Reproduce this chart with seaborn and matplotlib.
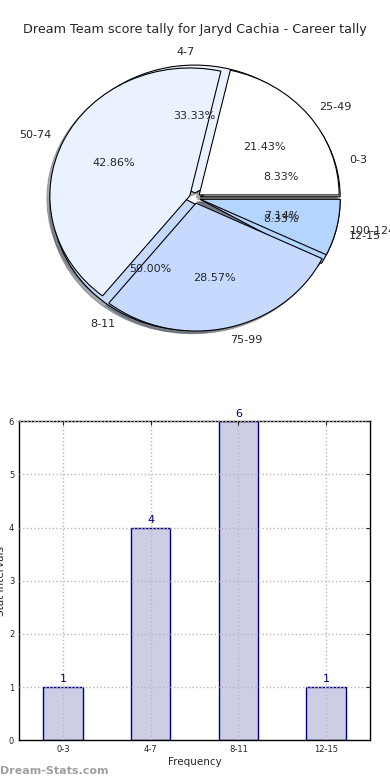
import matplotlib
matplotlib.use("Agg")
import matplotlib.pyplot as plt
import seaborn as sns

# Datos del grafico de sectores (dos tartas superpuestas)
dt_labels = ["0-3", "4-7", "8-11", "12-15"]
dt_values = [1, 4, 6, 1]
career_labels = ["25-49", "50-74", "75-99", "100-124"]
career_values = [3, 6, 4, 1]

# Datos del grafico de barras
bar_labels = ["0-3", "4-7", "8-11", "12-15"]
bar_values = [1, 4, 6, 1]

pie_colors = ["#ffffff", "#ebf2ff", "#c6d9ff", "#b3d5ff"]

sns.set_style("white")
plt.rcParams["font.family"] = ["DejaVu Sans"]

fig = plt.figure(figsize=(3.9, 7.8), dpi=100)

# Tarta
ax1 = fig.add_axes([0.051, 0.541, 0.897, 0.410])
explode = [0.04] * 4
for labels, values in [(dt_labels, dt_values), (career_labels, career_values)]:
    wedges, texts, autotexts = ax1.pie(
        values, labels=labels, colors=pie_colors, explode=explode,
        autopct="%1.2f%%", startangle=0,
        shadow={"ox": -0.015, "oy": -0.015, "shade": 0.6},
        wedgeprops={"edgecolor": "black", "linewidth": 0.8},
        textprops={"fontsize": 8},
    )
ax1.set_aspect("auto")
ax1.set_xlim(-1.25, 1.25)
ax1.set_ylim(-1.25, 1.25)

fig.text(0.5, 0.962, "Dream Team score tally for Jaryd Cachia - Career tally",
         ha="center", va="center", fontsize=9.2)

# Barras
ax2 = fig.add_axes([0.049, 0.051, 0.9, 0.409])
sns.barplot(x=bar_labels, y=bar_values, ax=ax2, width=0.45, color="#cdcde6",
            saturation=1, edgecolor="navy", linewidth=1)
for i, v in enumerate(bar_values):
    ax2.text(i, v + 0.05, str(v), ha="center", va="bottom", color="navy", fontsize=8)
ax2.set_xlim(-0.5, 3.5)
ax2.set_ylim(0, 6)
ax2.set_axisbelow(False)
ax2.grid(True, linestyle=":", color="#b8b8b8", linewidth=1)
ax2.tick_params(direction="in", top=True, right=True, labelsize=6, length=3)
ax2.set_xlabel("Frequency", fontsize=7.5, labelpad=2)
ax2.set_ylabel("Stat Intervals", fontsize=7.5, labelpad=2)
for s in ax2.spines.values():
    s.set_color("black")
    s.set_linewidth(1)

fig.text(0.0, 0.012, "Dream-Stats.com", color="#a0a0a0", fontsize=8,
         fontweight="bold", ha="left", va="center")

fig.savefig("out.png", dpi=100)
